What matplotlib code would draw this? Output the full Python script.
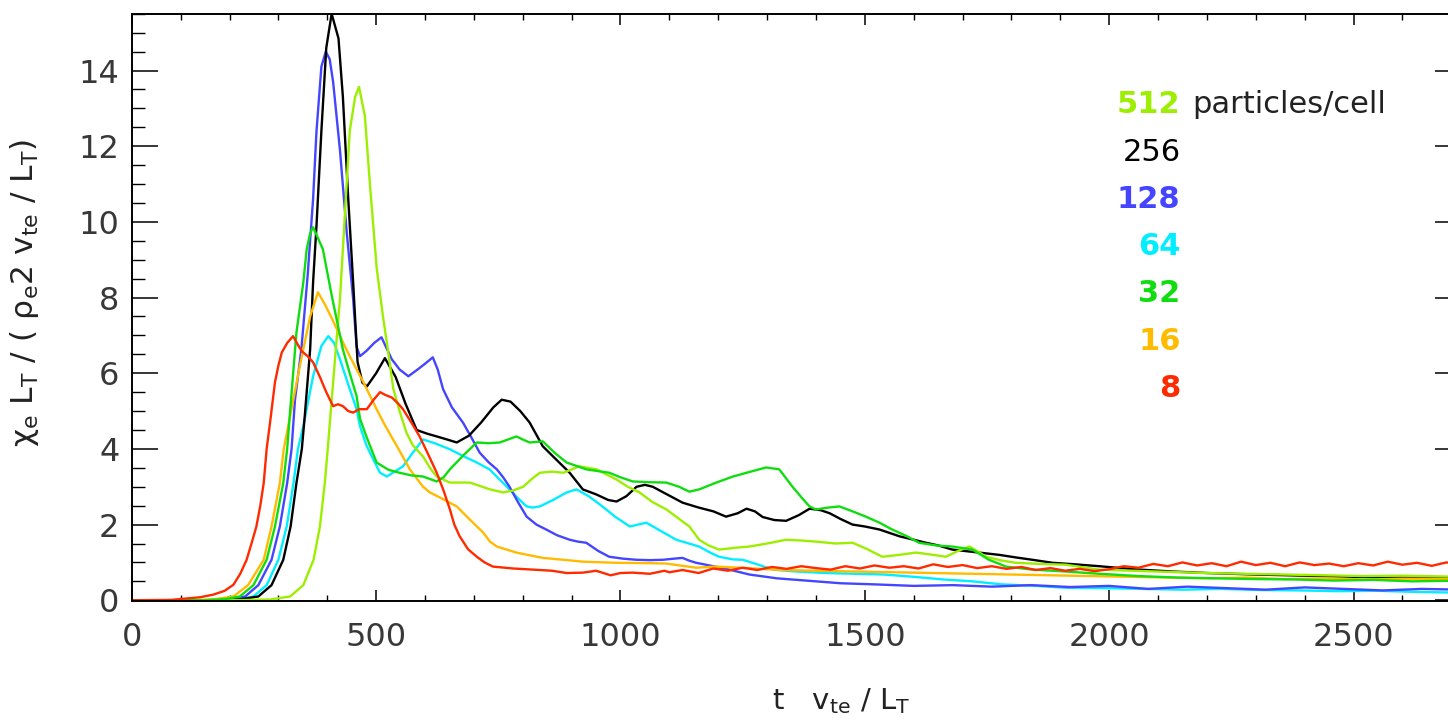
import numpy as np
import matplotlib
matplotlib.use("Agg")
import matplotlib.pyplot as plt
from matplotlib.ticker import MultipleLocator

plt.rcParams['font.family'] = ['DejaVu Sans']
plt.rcParams['mathtext.default'] = 'regular'

# chi_e vs time (t, chi) pairs
black_256 = [(0, 0), (150, 0), (220, 0.02), (259, 0.1), (286, 0.4), (310, 1.07), (325, 1.95), (337, 3.1),
             (348, 4.0), (354, 4.87), (365, 6.63), (371, 8.4), (378, 9.9), (388, 12.4), (398, 14.6), (409, 15.5),
             (423, 14.85), (432, 13.3), (443, 10.6), (453, 8.4), (462, 6.3), (472, 5.75), (481, 5.65), (500, 6.0),
             (518, 6.4), (540, 5.9), (560, 5.2), (583, 4.5), (605, 4.4), (624, 4.33), (645, 4.25), (665, 4.17),
             (690, 4.35), (715, 4.7), (740, 5.1), (757, 5.3), (775, 5.25), (795, 5.0), (814, 4.7), (841, 4.07),
             (870, 3.7), (896, 3.37), (923, 2.93), (950, 2.8), (975, 2.65), (992, 2.61), (1012, 2.75), (1033, 3.0),
             (1050, 3.05), (1066, 3.0), (1095, 2.8), (1127, 2.58), (1160, 2.45), (1190, 2.35), (1216, 2.21),
             (1240, 2.3), (1258, 2.42), (1275, 2.35), (1291, 2.2), (1315, 2.12), (1339, 2.1), (1365, 2.25),
             (1387, 2.42), (1410, 2.38), (1428, 2.3), (1450, 2.15), (1475, 2.0), (1500, 1.95), (1530, 1.87),
             (1571, 1.69), (1600, 1.6), (1625, 1.52), (1650, 1.45), (1679, 1.34), (1720, 1.28), (1775, 1.2),
             (1810, 1.13), (1843, 1.07), (1884, 0.99), (1930, 0.95), (1980, 0.9), (2050, 0.82), (2129, 0.76),
             (2200, 0.72), (2300, 0.68), (2400, 0.65), (2500, 0.62), (2600, 0.6), (2720, 0.58)]

blue_128 = [(0, 0), (150, 0), (200, 0.03), (232, 0.1), (259, 0.4), (286, 1.07), (303, 1.95), (318, 3.1),
            (327, 4.0), (334, 5.3), (347, 6.63), (360, 8.6), (371, 10.6), (378, 12.4), (388, 14.1), (397, 14.5),
            (405, 14.3), (412, 13.7), (426, 11.9), (440, 9.7), (453, 7.96), (460, 6.7), (467, 6.45), (481, 6.6),
            (496, 6.8), (511, 6.95), (520, 6.7), (532, 6.37), (548, 6.1), (566, 5.92), (585, 6.1), (600, 6.25),
            (616, 6.42), (626, 6.1), (637, 5.58), (655, 5.1), (678, 4.69), (695, 4.3), (712, 3.9), (730, 3.65),
            (747, 3.46), (760, 3.25), (773, 3.0), (790, 2.6), (808, 2.21), (828, 2.0), (848, 1.87), (870, 1.72),
            (896, 1.6), (913, 1.55), (930, 1.52), (955, 1.3), (977, 1.15), (1005, 1.1), (1033, 1.07),
            (1060, 1.06), (1087, 1.07), (1110, 1.1), (1127, 1.12), (1140, 1.05), (1155, 0.99), (1190, 0.9),
            (1223, 0.81), (1264, 0.68), (1320, 0.58), (1380, 0.52), (1450, 0.45), (1520, 0.42), (1600, 0.38),
            (1680, 0.4), (1760, 0.36), (1840, 0.4), (1920, 0.35), (2000, 0.38), (2080, 0.3), (2160, 0.36),
            (2240, 0.32), (2320, 0.28), (2400, 0.34), (2480, 0.3), (2560, 0.26), (2640, 0.3), (2720, 0.28)]

cyan_64 = [(0, 0), (150, 0), (215, 0.03), (249, 0.1), (276, 0.4), (300, 1.07), (317, 1.95), (331, 3.1),
           (340, 4.0), (351, 4.6), (371, 5.92), (388, 6.72), (402, 6.98), (414, 6.8), (426, 6.37), (443, 5.7),
           (460, 5.05), (467, 4.6), (480, 4.1), (495, 3.7), (508, 3.37), (522, 3.27), (538, 3.4), (555, 3.54),
           (575, 3.9), (596, 4.25), (620, 4.15), (651, 3.99), (680, 3.8), (706, 3.64), (732, 3.46), (752, 3.2),
           (773, 2.93), (790, 2.7), (808, 2.48), (820, 2.45), (835, 2.48), (862, 2.65), (890, 2.85), (910, 2.93),
           (935, 2.75), (963, 2.48), (990, 2.2), (1019, 1.95), (1036, 2.0), (1053, 2.05), (1080, 1.85),
           (1114, 1.6), (1140, 1.5), (1161, 1.42), (1185, 1.25), (1202, 1.15), (1230, 1.08), (1250, 1.07),
           (1280, 0.95), (1312, 0.81), (1360, 0.76), (1420, 0.72), (1480, 0.7), (1540, 0.68), (1600, 0.62),
           (1660, 0.55), (1720, 0.5), (1780, 0.42), (1850, 0.38), (1911, 0.33), (1990, 0.32), (2070, 0.3),
           (2150, 0.28), (2230, 0.3), (2310, 0.27), (2390, 0.26), (2470, 0.24), (2550, 0.25), (2630, 0.22),
           (2720, 0.2)]

green_32 = [(0, 0), (150, 0), (190, 0.03), (221, 0.1), (249, 0.4), (276, 1.07), (293, 1.95), (310, 3.1),
            (318, 4.0), (324, 5.0), (337, 7.08), (351, 8.4), (358, 9.28), (365, 9.7), (371, 9.86), (380, 9.6),
            (391, 9.28), (410, 8.0), (432, 6.63), (446, 6.0), (460, 5.4), (467, 4.8), (480, 4.33), (501, 3.64),
            (525, 3.45), (548, 3.37), (572, 3.3), (596, 3.27), (624, 3.14), (638, 3.25), (651, 3.46), (680, 3.85),
            (706, 4.17), (730, 4.15), (753, 4.17), (770, 4.25), (787, 4.33), (800, 4.25), (814, 4.17), (841, 4.2),
            (865, 3.9), (890, 3.64), (930, 3.46), (977, 3.37), (1000, 3.25), (1025, 3.14), (1060, 3.12),
            (1094, 3.11), (1120, 3.0), (1141, 2.87), (1161, 2.93), (1196, 3.11), (1230, 3.27), (1258, 3.37),
            (1298, 3.51), (1325, 3.46), (1352, 3.0), (1375, 2.65), (1387, 2.48), (1400, 2.4), (1425, 2.45),
            (1448, 2.48), (1475, 2.35), (1502, 2.21), (1530, 2.05), (1556, 1.87), (1585, 1.7), (1611, 1.52),
            (1645, 1.45), (1679, 1.42), (1720, 1.34), (1754, 1.07), (1789, 0.89), (1843, 0.81), (1911, 0.76),
            (1980, 0.7), (2060, 0.64), (2140, 0.6), (2220, 0.58), (2300, 0.56), (2380, 0.55), (2460, 0.52),
            (2540, 0.54), (2620, 0.5), (2720, 0.52)]

orange_16 = [(0, 0), (120, 0), (170, 0.03), (208, 0.1), (238, 0.4), (270, 1.07), (286, 1.95), (303, 3.1),
             (311, 4.0), (320, 4.6), (344, 6.2), (365, 7.5), (381, 8.14), (396, 7.8), (412, 7.38), (432, 6.82),
             (446, 6.45), (474, 5.76), (501, 5.05), (515, 4.7), (528, 4.4), (548, 3.95), (569, 3.46), (596, 3.0),
             (610, 2.85), (630, 2.72), (665, 2.48), (692, 2.13), (719, 1.79), (733, 1.55), (747, 1.42),
             (787, 1.26), (841, 1.12), (883, 1.07), (923, 1.02), (992, 0.99), (1060, 0.98), (1094, 0.97),
             (1155, 0.86), (1196, 0.89), (1260, 0.85), (1330, 0.8), (1400, 0.78), (1480, 0.76), (1560, 0.74),
             (1640, 0.72), (1720, 0.7), (1800, 0.68), (1880, 0.66), (1960, 0.64), (2040, 0.62), (2120, 0.6),
             (2200, 0.58), (2280, 0.6), (2360, 0.56), (2440, 0.58), (2520, 0.55), (2600, 0.57), (2720, 0.56)]

red_8 = [(0, 0), (80, 0.01), (140, 0.08), (167, 0.15), (190, 0.25), (208, 0.41), (222, 0.7), (235, 1.07),
         (245, 1.5), (255, 1.95), (263, 2.5), (270, 3.1), (276, 4.0), (283, 4.7), (293, 5.76), (300, 6.2),
         (307, 6.55), (318, 6.8), (330, 6.98), (340, 6.75), (348, 6.58), (360, 6.45), (371, 6.29), (385, 5.9),
         (398, 5.5), (412, 5.13), (422, 5.18), (432, 5.13), (443, 5.0), (453, 4.96), (465, 5.05), (481, 5.05),
         (495, 5.3), (508, 5.5), (520, 5.42), (532, 5.36), (545, 5.2), (555, 5.05), (572, 4.7), (589, 4.33),
         (605, 3.9), (624, 3.37), (638, 2.9), (651, 2.4), (660, 2.0), (671, 1.69), (688, 1.35), (706, 1.15),
         (722, 1.0), (739, 0.89), (780, 0.84), (821, 0.81), (860, 0.78), (890, 0.72), (923, 0.73), (950, 0.78),
         (980, 0.66), (1000, 0.72), (1025, 0.73), (1060, 0.7), (1090, 0.78), (1100, 0.74), (1127, 0.8),
         (1160, 0.72), (1190, 0.84), (1220, 0.78), (1250, 0.86), (1280, 0.8), (1310, 0.88), (1340, 0.83),
         (1370, 0.9), (1400, 0.85), (1430, 0.81), (1460, 0.9), (1490, 0.84), (1520, 0.92), (1550, 0.86),
         (1580, 0.9), (1610, 0.84), (1640, 0.95), (1670, 0.88), (1700, 0.93), (1730, 0.85), (1760, 0.9),
         (1790, 0.83), (1820, 0.88), (1850, 0.8), (1880, 0.85), (1910, 0.78), (1940, 0.83), (1970, 0.77),
         (2000, 0.82), (2030, 0.9), (2060, 0.86), (2090, 0.96), (2120, 0.9), (2150, 1.0), (2180, 0.92),
         (2210, 0.98), (2240, 0.9), (2270, 1.02), (2300, 0.93), (2330, 0.99), (2360, 0.9), (2390, 1.0),
         (2420, 0.93), (2450, 0.97), (2480, 0.9), (2510, 0.98), (2540, 0.92), (2570, 1.02), (2600, 0.94),
         (2630, 0.99), (2660, 0.91), (2690, 1.0), (2720, 0.95)]

lime_512 = [(0, 0), (200, 0), (283, 0.02), (324, 0.1), (351, 0.4), (372, 1.07), (385, 1.95), (395, 3.1),
            (401, 4.0), (412, 5.76), (426, 7.96), (432, 9.28), (446, 12.4), (457, 13.3), (465, 13.57),
            (477, 12.8), (487, 11.05), (501, 8.8), (514, 7.5), (524, 6.63), (535, 5.6), (548, 5.0), (562, 4.43),
            (575, 4.1), (596, 3.8), (610, 3.5), (624, 3.27), (651, 3.11), (692, 3.11), (733, 2.93), (760, 2.85),
            (780, 2.9), (801, 3.0), (818, 3.2), (835, 3.37), (860, 3.4), (883, 3.37), (916, 3.54), (951, 3.46),
            (992, 3.19), (1015, 3.0), (1039, 2.85), (1065, 2.6), (1094, 2.4), (1120, 2.15), (1141, 1.95),
            (1161, 1.6), (1180, 1.45), (1202, 1.34), (1237, 1.39), (1264, 1.42), (1300, 1.5), (1339, 1.6),
            (1370, 1.58), (1400, 1.55), (1440, 1.5), (1475, 1.52), (1505, 1.35), (1536, 1.15), (1570, 1.2),
            (1605, 1.26), (1640, 1.2), (1666, 1.15), (1690, 1.3), (1714, 1.42), (1730, 1.3), (1748, 1.15),
            (1780, 1.05), (1809, 0.99), (1860, 0.96), (1911, 0.94), (1979, 0.81), (2050, 0.78), (2120, 0.75),
            (2200, 0.72), (2280, 0.7), (2360, 0.68), (2440, 0.66), (2520, 0.64), (2600, 0.65), (2720, 0.62)]

# draw order (bottom -> top), colour, legend label
series = [
    (cyan_64, '#00eeff', '64'),
    (blue_128, '#4545ff', '128'),
    (black_256, '#000000', '256'),
    (lime_512, '#9cef00', '512'),
    (orange_16, '#ffbb00', '16'),
    (green_32, '#10dd10', '32'),
    (red_8, '#ff2a00', '8'),
]
legend_order = ['512', '256', '128', '64', '32', '16', '8']

fig = plt.figure(figsize=(14.48, 7.25), dpi=100)
# axes runs a little past the right edge, like the cropped original
ax = fig.add_axes([0.091, 0.171, 0.918, 0.81])

colors = {}
for data, col, lab in series:
    arr = np.array(data)
    ax.plot(arr[:, 0], arr[:, 1], color=col, lw=1.7)
    colors[lab] = col

ax.set_xlim(0, 2720)
ax.set_ylim(-0.02, 15.5)

ax.xaxis.set_major_locator(MultipleLocator(500))
ax.xaxis.set_minor_locator(MultipleLocator(100))
ax.yaxis.set_major_locator(MultipleLocator(2))
ax.yaxis.set_minor_locator(MultipleLocator(0.5))

ax.tick_params(axis='x', which='major', direction='in', length=8, width=1.1, top=True,
               labelsize=23, pad=15, labelcolor='#383838')
ax.tick_params(axis='x', which='minor', direction='in', length=4, width=1.0, top=True)
ax.tick_params(axis='y', which='major', direction='in', length=19, width=1.1, right=True,
               labelsize=23, pad=9, labelcolor='#383838')
ax.tick_params(axis='y', which='minor', direction='in', length=9.5, width=1.0, right=True)
for sp in ax.spines.values():
    sp.set_linewidth(1.4)

ax.set_xlabel(r'$t\ \ \ v_{te}\ /\ L_T$', fontsize=21, color='#222222')
ax.xaxis.set_label_coords(0.534, -0.145)
ax.set_ylabel(r'$\chi_e\ L_T\ /\ (\ \rho_e2\ v_{te}\ /\ L_T)$', fontsize=22.5, color='#222222')
ax.yaxis.set_label_coords(-0.068, 0.525)

# colour-coded labels in place of a legend box
y0, dy = 0.845, 0.0805
for i, lab in enumerate(legend_order):
    w = 'normal' if lab == '256' else 'bold'
    ax.text(0.789, y0 - i * dy, lab, transform=ax.transAxes, ha='right', va='center',
            fontsize=22, color=colors[lab], fontweight=w)
ax.text(0.798, y0, 'particles/cell', transform=ax.transAxes, ha='left', va='center',
        fontsize=22, color='#222222')

fig.savefig('out.png', dpi=100)
